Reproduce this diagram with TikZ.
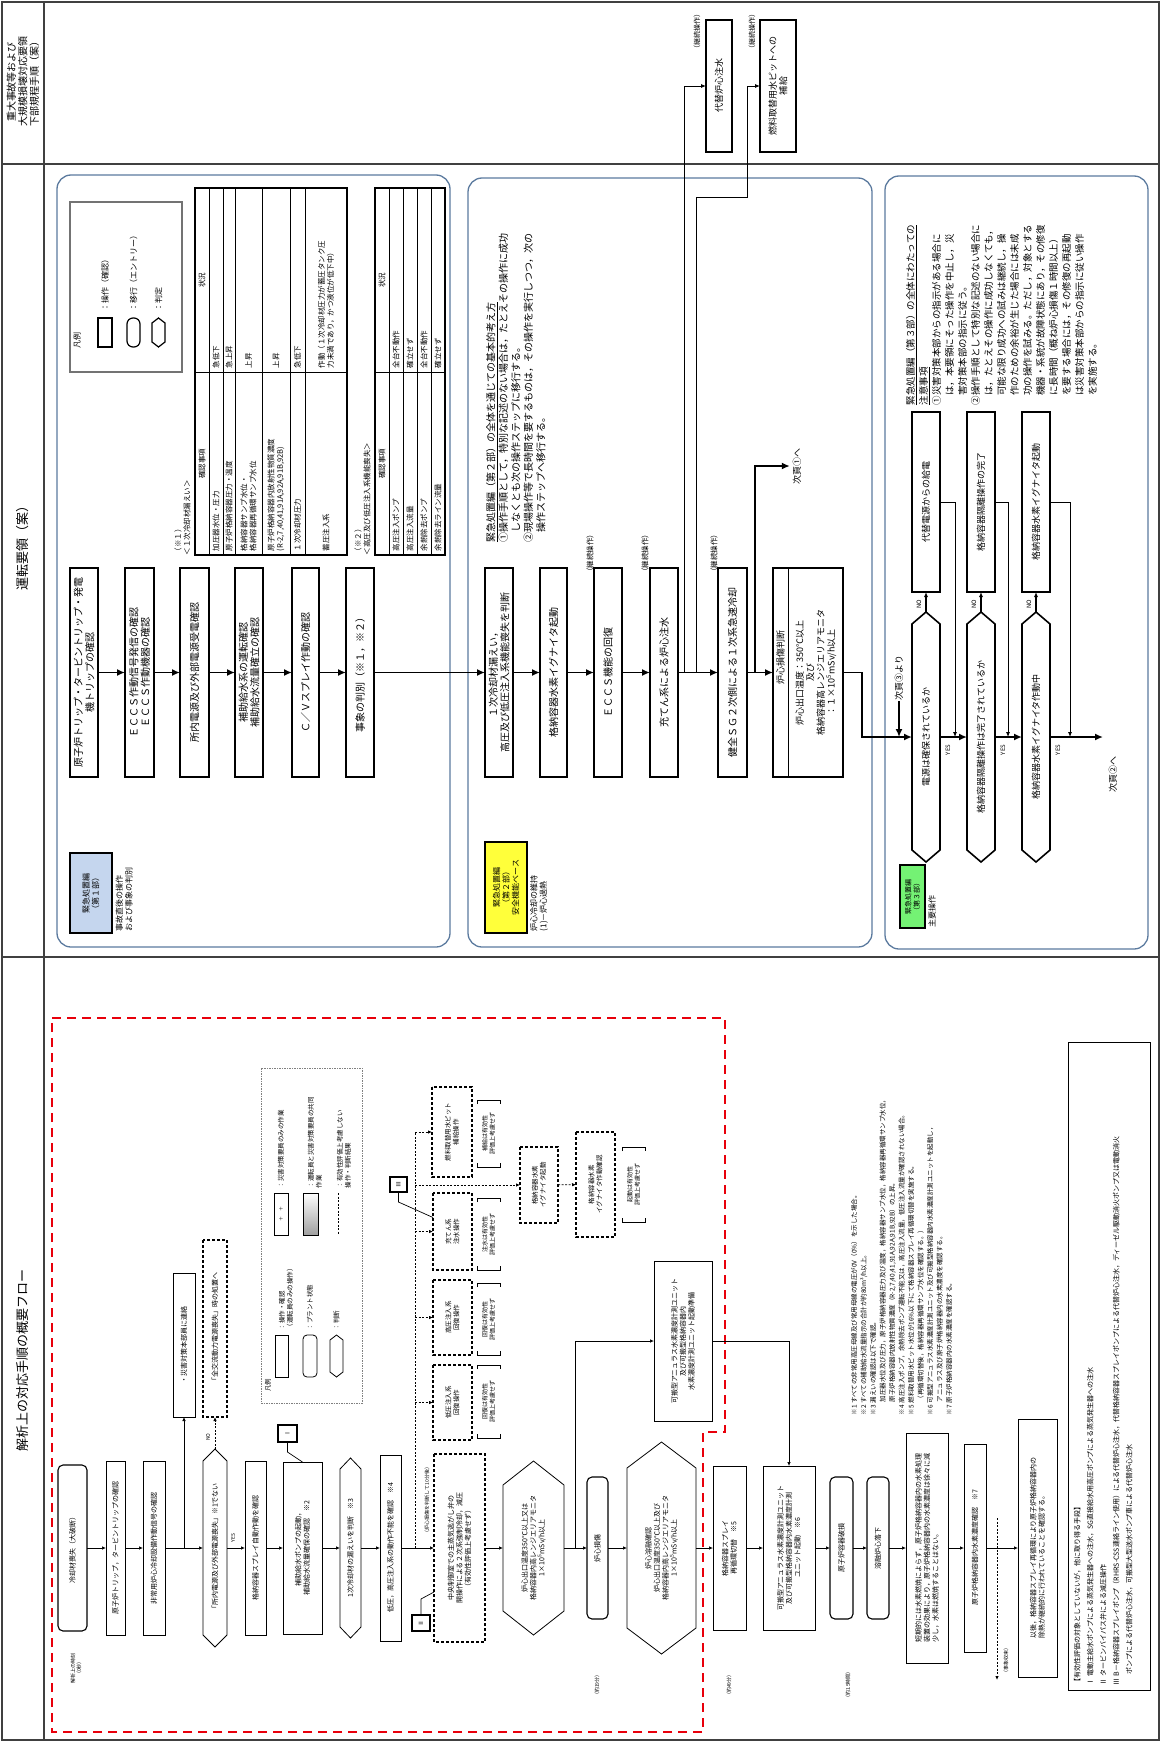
\documentclass[tikz,border=0pt]{standalone}
\usepackage{fontspec}
\setmainfont{Noto Sans CJK JP}
\usetikzlibrary{arrows.meta,calc}
\definecolor{panelc}{HTML}{5B7A9E}
\definecolor{lblue}{HTML}{C5D6EE}
\definecolor{yel}{HTML}{FFFF3A}
\definecolor{grn}{HTML}{74F274}
\definecolor{dred}{HTML}{E8000B}
\newcommand{\mkbox}[7][]{%
  \pgfmathsetmacro\bxcx{(#3+#5)/2}%
  \pgfmathsetmacro\bxcy{(#4+#6)/2}%
  \pgfmathsetmacro\bxw{(#6)-(#4)}%
  \pgfmathsetmacro\bxh{(#5)-(#3)}%
  \node[bx,minimum width=\bxw pt,minimum height=\bxh pt,#1] (#2) at (\bxcx,\bxcy) {#7};%
}
\newcommand{\mkhex}[9][]{%
  \pgfmathsetmacro\hxcx{(#3+#5)/2}%
  \mkbox[draw=none,#8]{#2}{#3}{#4}{#5}{#6}{#9}%
  \draw[#1] (#3,#4+#7) -- (\hxcx,#4) -- (#5,#4+#7) -- (#5,#6-#7) -- (\hxcx,#6) -- (#3,#6-#7) -- cycle;%
}
\newcommand{\mkbrk}[4]{%
  \draw[line width=0.8pt] (#1,#2+4) -- (#1,#2) -- (#3,#2) -- (#3,#2+4);%
  \draw[line width=0.8pt] (#1,#4-4) -- (#1,#4) -- (#3,#4) -- (#3,#4-4);%
}
\begin{document}
\begin{tikzpicture}[x=1pt,y=-1pt,
  bx/.style={rotate=90,inner sep=1pt,outer sep=0pt,align=center},
  framel/.style={draw=black!75,line width=1.5pt},
  panel/.style={draw=panelc,line width=1.3pt,rounded corners=14pt},
  tbox/.style={draw,line width=1.6pt},
  nbox/.style={draw,line width=0.8pt},
  dbox/.style={draw,line width=1.1pt,dash pattern=on 3pt off 2pt},
  rbox/.style={draw,line width=1.1pt,rounded corners=5pt},
  arrT/.style={line width=1.6pt,-{Latex[length=8pt,width=7pt]}},
  arrt/.style={line width=0.8pt,-{Latex[length=5pt,width=4pt]}},
  arrs/.style={line width=0.7pt,-{Latex[length=4pt,width=3.5pt]}},
  arrd/.style={line width=0.8pt,dash pattern=on 2pt off 1.5pt,-{Latex[length=4pt,width=3.5pt]}},
  dotl/.style={line width=0.8pt,dash pattern=on 2pt off 1.5pt},
  f13/.style={font=\fontsize{13}{15}\selectfont},
  f10/.style={font=\fontsize{10}{11.5}\selectfont},
  f9/.style={font=\fontsize{9}{10.5}\selectfont},
  f8/.style={font=\fontsize{8}{9.5}\selectfont},
  f75/.style={font=\fontsize{7.5}{9}\selectfont},
  f7/.style={font=\fontsize{7}{8.5}\selectfont},
  f65/.style={font=\fontsize{6.5}{8}\selectfont},
  f6/.style={font=\fontsize{6}{7.5}\selectfont},
  f5/.style={font=\fontsize{5}{6}\selectfont}]
\path[use as bounding box] (0,0) rectangle (1161,1742);
% ---------- frame ----------
\draw[framel] (2,2) rectangle (1159,1740);
\draw[framel] (44,2) -- (44,1740);
\draw[framel] (2,164) -- (1159,164);
\draw[framel] (2,957) -- (1159,957);
\node[bx,f10] (h1) at (23,82) {重大事故等および\\大規模損壊対応要領\\下部規程手順（案）};
\node[bx,f13] (h2) at (23,545) {運転要領（案）};
\node[bx,f13] (h3) at (23,1360) {解析上の対応手順の概要フロー};
% ---------- top section ----------
\mkbox[tbox,f9]{T1}{706}{20}{732}{152}{代替炉心注水}
\mkbox[tbox,f9]{T2}{760}{20}{796}{152}{燃料取替用水ピットへの\\補給}
\node[bx,f7] (t1l) at (697,32) {（継続操作）};
\node[bx,f7] (t2l) at (752,32) {（継続操作）};
% ---------- panel 1 ----------
\draw[panel] (57,175) rectangle (450,947);
\draw[draw=black!55,line width=1.5pt] (70,202) rectangle (182,372);
\node[bx,f8] (lg0) at (77,340) {凡例};
\mkbox[draw,line width=1.2pt]{ls1}{98}{318}{112}{347}{}
\node[bx,f8,anchor=west] (lt1) at (105,312) {：操作（確認）};
\mkbox[draw,line width=1.2pt,rounded corners=6pt]{ls2}{127}{318}{140}{347}{}
\node[bx,f8,anchor=west] (lt2) at (133.5,312) {：移行（エントリー）};
\mkhex[line width=1.2pt]{ls3}{152}{318}{165}{347}{5}{}{}
\node[bx,f8,anchor=west] (lt3) at (158.5,312) {：判定};
% table 1
\node[bx,f75,anchor=west] (tb1a) at (178,556) {（※１）};
\node[bx,f75,anchor=west] (tb1b) at (187,556) {＜１次冷却材漏えい＞};
\draw[line width=1.5pt] (195,188) rectangle (347,555);
\foreach \r in {209,223,235,262,290,305}{\draw[line width=1pt] (\r,188) -- (\r,555);}
\draw[line width=0.7pt] (195,372) -- (347,372);
\node[bx,f75] (r0a) at (202,463.5) {確認事項};
\node[bx,f75] (r0b) at (202,280) {状況};
\node[bx,f75,anchor=west] (r1a) at (216,552) {加圧器水位・圧力};
\node[bx,f75,anchor=west] (r1b) at (216,369) {急低下};
\node[bx,f75,anchor=west] (r2a) at (229,552) {原子炉格納容器圧力・温度};
\node[bx,f75,anchor=west] (r2b) at (229,369) {急上昇};
\node[bx,f75,anchor=west,align=left] (r3a) at (248.5,552) {格納容器サンプ水位・\\格納容器再循環サンプ水位};
\node[bx,f75,anchor=west] (r3b) at (248.5,369) {上昇};
\node[bx,f75,anchor=west,align=left] (r4a) at (276,552) {原子炉格納容器内放射性物質濃度\\(R-2,7,40,41,91A,92A,91B,92B)};
\node[bx,f75,anchor=west] (r4b) at (276,369) {上昇};
\node[bx,f75,anchor=west] (r5a) at (297.5,552) {１次冷却材圧力};
\node[bx,f75,anchor=west] (r5b) at (297.5,369) {急低下};
\node[bx,f75,anchor=west] (r6a) at (326,552) {蓄圧注入系};
\node[bx,f75,anchor=west,align=left] (r6b) at (326,369) {作動（１次冷却材圧力が蓄圧タンク圧\\力未満であり，かつ液位が低下中）};
% table 2
\node[bx,f75,anchor=west] (tb2a) at (358,556) {（※２）};
\node[bx,f75,anchor=west] (tb2b) at (367,556) {＜高圧及び低圧注入系機能喪失＞};
\draw[line width=1.5pt] (375,188) rectangle (445,555);
\foreach \r in {389,403,417,431}{\draw[line width=1pt] (\r,188) -- (\r,555);}
\draw[line width=0.7pt] (375,372) -- (445,372);
\node[bx,f75] (s0a) at (382,463.5) {確認事項};
\node[bx,f75] (s0b) at (382,280) {状況};
\node[bx,f75,anchor=west] (s1a) at (396,552) {高圧注入ポンプ};
\node[bx,f75,anchor=west] (s1b) at (396,369) {全台不動作};
\node[bx,f75,anchor=west] (s2a) at (410,552) {高圧注入流量};
\node[bx,f75,anchor=west] (s2b) at (410,369) {確立せず};
\node[bx,f75,anchor=west] (s3a) at (424,552) {余熱除去ポンプ};
\node[bx,f75,anchor=west] (s3b) at (424,369) {全台不動作};
\node[bx,f75,anchor=west] (s4a) at (438,552) {余熱除去ライン流量};
\node[bx,f75,anchor=west] (s4b) at (438,369) {確立せず};
% flow 1
\mkbox[tbox,f10]{P1a}{70}{568}{98}{777}{原子炉トリップ・タービントリップ・発電\\機トリップの確認}
\mkbox[tbox,f10]{P1b}{125}{568}{154}{777}{ＥＣＣＳ作動信号発信の確認\\ＥＣＣＳ作動機器の確認}
\mkbox[tbox,f10]{P1c}{180}{568}{209}{777}{所内電源及び外部電源受電確認}
\mkbox[tbox,f10]{P1d}{235}{568}{263}{777}{補助給水系の運転確認\\補助給水流量確立の確認}
\mkbox[tbox,f10]{P1e}{292}{568}{319}{777}{Ｃ／Ｖスプレイ作動の確認}
\mkbox[tbox,f10]{P1f}{346}{568}{374}{777}{事象の判別（※１，※２）}
\mkbox[draw,line width=1.5pt,fill=lblue,f8]{L1}{70}{853}{112}{933}{緊急処置編\\（第１部）}
\node[bx,f8,anchor=west,align=left] (L1t) at (124,932) {事故直後の操作\\および事象の判別};
% ---------- panel 2 ----------
\draw[panel] (468,178) rectangle (872,947);
\node[bx,anchor=north west,align=left,inner sep=0pt,font=\fontsize{10}{12.5}\selectfont] (n2) at (486,542)
 {\underline{緊急処置編（第２部）の全体を通じての基本的考え方}\\①操作手順として，特別な記述のない場合は，たとえその操作に成功\\\hspace*{1em}しなくとも次の操作ステップに移行する。\\②現場操作等で長時間を要するものは，その操作を実行しつつ，次の\\\hspace*{1em}操作ステップへ移行する。};
\mkbox[tbox,f10]{P2a}{485}{568}{513}{777}{１次冷却材漏えい，\\高圧及び低圧注入系機能喪失を判断}
\mkbox[tbox,f10]{P2b}{540}{568}{567}{777}{格納容器水素イグナイタ起動}
\mkbox[tbox,f10]{P2c}{594}{568}{622}{777}{ＥＣＣＳ機能の回復}
\mkbox[tbox,f10]{P2d}{650}{568}{678}{777}{充てん系による炉心注水}
\mkbox[tbox,f10]{P2e}{718}{568}{747}{777}{健全ＳＧ２次側による１次系急速冷却}
\mkbox[tbox]{P2f}{773}{568}{843}{777}{}
\draw[line width=1pt] (788,568) -- (788,777);
\node[bx,f9] (P2fh) at (780.5,657) {炉心損傷判断};
\node[bx,f9] (P2ft) at (816,672.5) {炉心出口温度：350℃以上\\及び\\格納容器高レンジエリアモニタ\\：１×10\textsuperscript{5}mSv/h以上};
\node[bx,f75] (k1) at (590,553) {（継続操作）};
\node[bx,f75] (k2) at (645,553) {（継続操作）};
\node[bx,f75] (k3) at (714,553) {（継続操作）};
\mkbox[draw,line width=1.5pt,fill=yel,f8]{L2}{485}{842}{527}{933}{緊急処置編\\（第２部）\\安全機能ベース}
\node[bx,f8,anchor=west,align=left] (L2t) at (539,932) {炉心冷却の維持\\(1)－炉心過熱};
\draw[arrT] (P1a) -- (P1b);
\draw[arrT] (P1b) -- (P1c);
\draw[arrT] (P1c) -- (P1d);
\draw[arrT] (P1d) -- (P1e);
\draw[arrT] (P1e) -- (P1f);
\draw[arrT] (P1f) -- (P2a);
\draw[arrT] (P2a) -- (P2b);
\draw[arrT] (P2b) -- (P2c);
\draw[arrT] (P2c) -- (P2d);
\draw[arrT] (P2d) -- (P2e);
\draw[arrT] (P2e) -- (P2f);
\coordinate (j1) at (684,672.5);
\coordinate (j2) at (696,672.5);
\coordinate (j3) at (755,672.5);
\draw[arrt] (j1) |- (T1);
\draw[arrt] (j2) |- (747,197) |- (T2);
\node[bx,f9,inner sep=3pt] (nx1) at (797,466) {次頁①へ};
\draw[arrT] (j3) |- (nx1.north);
% ---------- panel 3 ----------
\draw[panel] (885,176) rectangle (1148,949);
\node[bx,anchor=north west,align=left,inner sep=0pt,font=\fontsize{9.5}{13}\selectfont] (n3) at (906,405)
 {\underline{緊急処置編（第３部）の全体にわたっての}\\\underline{注意事項}\\①災害対策本部からの指示がある場合に\\\hspace*{1em}は，本要領にそった操作を中止し，災\\\hspace*{1em}害対策本部の指示に従う。\\②操作手順として特別な記述のない場合に\\\hspace*{1em}は，たとえその操作に成功しなくても，\\\hspace*{1em}可能な限り成功への試みは継続し，操\\\hspace*{1em}作のための余裕が生じた場合には未成\\\hspace*{1em}功の操作を試みる。ただし，対象とする\\\hspace*{1em}機器・系統が故障状態にあり，その修復\\\hspace*{1em}に長時間（概ね炉心損傷１時間以上）\\\hspace*{1em}を要する場合には，その修復の再起動\\\hspace*{1em}は災害対策本部からの指示に従い操作\\\hspace*{1em}を実施する。};
\mkhex[line width=1.6pt]{H1}{912}{612}{940}{862}{12}{f9}{電源は確保されているか}
\mkhex[line width=1.6pt]{H2}{967}{612}{995}{862}{12}{f9}{格納容器隔離操作は完了されているか}
\mkhex[line width=1.6pt]{H3}{1022}{612}{1050}{862}{12}{f9}{格納容器水素イグナイタ作動中}
\mkbox[tbox,f9]{B1}{912}{412}{940}{592}{代替電源からの給電}
\mkbox[tbox,f9]{B2}{967}{412}{995}{592}{格納容器隔離操作の完了}
\mkbox[tbox,f9]{B3}{1022}{412}{1050}{592}{格納容器水素イグナイタ起動}
\draw[arrt,line width=1.2pt] (H1) -- (B1);
\draw[arrt,line width=1.2pt] (H2) -- (B2);
\draw[arrt,line width=1.2pt] (H3) -- (B3);
\node[bx,f6] (no1) at (919,604) {NO};
\node[bx,f6] (no2) at (974,604) {NO};
\node[bx,f6] (no3) at (1029,604) {NO};
\node[bx,f6] (ye1) at (948,750) {YES};
\node[bx,f6] (ye2) at (1003,750) {YES};
\node[bx,f6] (ye3) at (1058,750) {YES};
\draw[arrT] (P2f.south) -| (862,737) -- (H1);
\draw[arrT] (H1) -- (H2);
\draw[arrT] (H2) -- (H3);
\coordinate (e3) at (1103,737);
\draw[arrT] (H3) -- (e3);
\node[bx,f9] (nx2) at (1113,774) {次頁②へ};
\draw[arrt] (B1.south) -| (955,737);
\draw[arrt] (B2.south) -| (1008,737);
\draw[arrt] (B3.south) -| (1070,737);
\node[bx,f9] (nx3) at (899,678) {次頁③より};
\draw[arrT] (nx3.west) -- (nx3.west |- H1);
\mkbox[draw,line width=1.5pt,fill=grn,f7]{L3}{900}{865}{925}{928}{緊急処置編\\（第３部）}
\node[bx,f8,anchor=west] (L3t) at (932,928) {主要操作};
% ---------- bottom section ----------
\draw[dred,line width=2.6pt,dash pattern=on 9pt off 6pt] (52,1018) -- (725,1018) -- (725,1432) -- (703,1432) -- (703,1732) -- (52,1732) -- cycle;
% legend
\draw[black!50,line width=0.7pt,dash pattern=on 1.5pt off 1pt] (261,1068) rectangle (362,1403);
\node[bx,f65] (bl0) at (268,1385) {凡例};
\mkbox[nbox]{bs1}{275}{1335}{288}{1377}{}
\node[bx,f65,anchor=west,align=left] (bt1) at (286,1331) {：操作・確認\\（運転員のみの操作）};
\mkbox[rbox,line width=0.8pt,rounded corners=4pt]{bs2}{303}{1335}{317}{1377}{}
\node[bx,f65,anchor=west] (bt2) at (310,1331) {：プラント状態};
\mkhex[line width=0.8pt]{bs3}{330}{1335}{343}{1377}{5}{}{}
\node[bx,f65,anchor=west] (bt3) at (336.5,1331) {：判断};
\mkbox[nbox,f5]{bs4}{274}{1193}{288}{1235}{＋\quad ＋}
\node[bx,f65,anchor=west] (bt4) at (281,1189) {：災害対策要員のみの作業};
\shade[top color=white,bottom color=gray!75,draw,line width=0.8pt] (303,1193) rectangle (318,1235);
\node[bx,f65,anchor=west,align=left] (bt5) at (315,1189) {：運転員と災害対策要員の共同\\作業};
\draw[dotl] (338,1193) -- (338,1235);
\node[bx,f65,anchor=west,align=left] (bt6) at (344,1189) {：有効性評価上考慮しない\\操作・判断結果};
% main flow
\mkbox[rbox,f7]{F1}{58}{1465}{87}{1631}{冷却材喪失（大破断）}
\node[bx,f5] (F1t) at (76,1668) {解析上の時刻\\（0秒）};
\mkbox[nbox,f7]{F2}{106}{1461}{125}{1635}{原子炉トリップ，タービントリップの確認}
\mkbox[nbox,f7]{F3}{143}{1461}{165}{1635}{非常用炉心冷却設備作動信号の確認}
\mkbox[nbox,f7]{F4}{173}{1273}{195}{1417}{・災害対策本部員に連絡}
\mkhex[line width=0.8pt]{F5}{203}{1449}{227}{1647}{12}{f7}{「所内電源及び外部電源喪失」※1でない}
\mkbox[dbox,f7]{D0}{203}{1240}{227}{1417}{「全交流動力電源喪失」時の処置へ}
\node[bx,f5] (F5n) at (208,1437) {NO};
\node[bx,f5] (F5y) at (233,1538) {YES};
\mkbox[nbox,f7]{F6}{245}{1461}{266}{1635}{格納容器スプレイ自動作動を確認}
\mkbox[nbox,f7]{F7}{283}{1462}{322}{1634}{補助給水ポンプの起動，\\補助給水流量確保の確認　※2}
\mkbox[draw,line width=1.2pt,f6]{C1}{278}{1425}{297}{1442}{Ⅰ}
\mkhex[line width=0.8pt]{F8}{340}{1458}{361}{1638}{11}{f7}{1次冷却材の漏えいを判断　※3}
\mkbox[nbox,f7]{F9}{380}{1455}{401}{1641}{低圧，高圧注入系の動作不能を確認　※4}
\mkbox[dbox,f7]{DB0}{434}{1454}{485}{1642}{中央制御室での主蒸気逃がし弁の\\開操作による２次系強制冷却，減圧\\（有効性評価上考慮せず）}
\node[bx,f5] (DB0t) at (427,1500) {（炉心損傷を判断して10分後）};
\mkbox[draw,line width=1.2pt,f6]{C2}{412}{1615}{430}{1631}{Ⅱ}
\mkbox[dbox,f65]{DB1}{432}{1087}{472}{1177}{燃料取替用水ピット\\補給操作}
\mkbox[dbox,f65]{DB2}{433}{1193}{472}{1270}{充てん系\\注水操作}
\mkbox[dbox,f65]{DB3}{433}{1280}{472}{1355}{高圧注入系\\回復操作}
\mkbox[dbox,f65]{DB4}{433}{1365}{472}{1440}{低圧注入系\\回復操作}
\mkbox[dbox,f65]{DB5}{520}{1147}{558}{1223}{格納容器水素\\イグナイタ起動}
\mkbox[dbox,f65]{DB6}{576}{1132}{615}{1237}{格納容器水素\\イグナイタ作動確認}
\mkbox[draw,line width=1.2pt,f6]{C3}{390}{1177}{407}{1192}{Ⅲ}
\mkbrk{477}{1100}{500}{1167}
\node[bx,f6] (BR1) at (488.5,1133.5) {補給は有効性\\評価上考慮せず};
\mkbrk{477}{1198}{500}{1270}
\node[bx,f6] (BR2) at (488.5,1234) {注水は有効性\\評価上考慮せず};
\mkbrk{477}{1283}{500}{1355}
\node[bx,f6] (BR3) at (488.5,1319) {回復は有効性\\評価上考慮せず};
\mkbrk{477}{1365}{500}{1438}
\node[bx,f6] (BR4) at (488.5,1401.5) {回復は有効性\\評価上考慮せず};
\mkbrk{622}{1147}{645}{1222}
\node[bx,f6] (BR5) at (633.5,1184.5) {起動は有効性\\評価上考慮せず};
\mkhex[line width=0.8pt]{F11}{503}{1461}{564}{1635}{24}{f7}{炉心出口温度350℃以上又は\\格納容器内高レンジエリアモニタ\\1×10\textsuperscript{5}mSv/h以上}
\mkbox[rbox,f7]{F12}{587}{1477}{608}{1619}{炉心損傷}
\node[bx,f5] (F12t) at (597,1685) {（約19分）};
\mkhex[line width=0.8pt]{F13}{627}{1442}{696}{1654}{26}{f7}{炉心溶融確認\\炉心出口温度350℃以上及び\\格納容器内高レンジエリアモニタ\\1×10\textsuperscript{5}mSv/h以上}
\mkbox[nbox,f7]{F13b}{654}{1261}{712}{1421}{可搬型アニュラス水素濃度計測ユニット\\及び可搬型格納容器内\\水素濃度計測ユニット起動準備}
\mkbox[nbox,f7]{F14}{713}{1466}{746}{1630}{格納容器スプレイ\\再循環切替　※5}
\node[bx,f5] (F14t) at (729,1685) {（約49分）};
\mkbox[nbox,f7]{F15}{763}{1466}{815}{1630}{可搬型アニュラス水素濃度計測ユニット\\及び可搬型格納容器内水素濃度計測\\ユニット起動　※6}
\mkbox[rbox,f7]{F16}{830}{1477}{853}{1619}{原子炉容器破損}
\node[bx,f5] (F16t) at (848,1685) {（約1.5時間）};
\mkbox[rbox,f7]{F17}{867}{1477}{889}{1619}{溶融炉心落下}
\mkbox[nbox,f7,align=left]{F18}{906}{1433}{948}{1663}{短期的には水素燃焼によらず，原子炉格納容器内の水素処理\\装置の効果により，原子炉格納容器内の水素濃度は徐々に減\\少し，水素は燃焼することはない。}
\mkbox[nbox,f7]{F19}{964}{1444}{986}{1652}{原子炉格納容器内水素濃度確認　※7}
\mkbox[nbox,f7,align=left]{F20}{1018}{1419}{1057}{1677}{以後，格納容器スプレイ再循環により原子炉格納容器内の\\除熱が継続的に行われていることを確認する。}
\coordinate (ds1) at (997,1518);
\coordinate (ds2) at (997,1680);
\draw[arrd] (ds1) -- (ds2);
\node[bx,f5] (dsl) at (1006,1660) {（事象収束）};
% flow connectors
\foreach \a/\b in {F1/F2,F2/F3,F3/F5,F5/F6,F6/F7,F7/F8,F8/F9,F9/DB0,DB0/F11,F11/F12,F12/F13,F13/F14,F14/F15,F15/F16,F16/F17,F17/F18,F18/F19,F19/F20}
  {\draw[arrs] (\a) -- (\b);}
\draw[arrs] (F4 |- F3) -- (F4);
\draw[arrd] (F5) -- (D0);
\draw[line width=0.7pt] (C1.west) -- ++(0,10) -- (F7.east);
\draw[line width=0.7pt] (C2.east) -- ++(0,-16) -- ($(DB0.north)+(0,44)$);
\draw[line width=0.7pt] (C3.west) -- ++(0,10) -- ($(DB2.north)+(0,-14)$);
\coordinate (jt) at (415,1132);
\draw[dotl] (jt |- F9) -- (jt);
\draw[arrd] (jt) -- (DB1);
\draw[arrd] (jt |- DB2) -- (DB2);
\draw[arrd] (jt |- DB3) -- (DB3);
\draw[arrd] (jt |- DB4) -- (DB4);
\draw[arrd] (jt |- DB5) -- (DB5);
\draw[arrd] (DB5) -- (DB6);
\coordinate (jh) at (575,1548);
\draw[arrs] (jh) |- (F13b);
\draw[arrs] (F13b) -| (F15);
% notes
\node[bx,anchor=north west,align=left,inner sep=0pt,font=\fontsize{6.5}{9.5}\selectfont] (nts) at (851,1415)
 {※1\ すべての非常用高圧母線及び常用母線の電圧が0V（0\%）を示した場合。\\
  ※2\ すべての補助給水流量指示の合計が約80m³/h以上。\\
  ※3\ 漏えいの確認は以下で確認。\\
  \hspace*{2em}加圧器水位及び圧力，原子炉格納容器圧力及び温度，格納容器サンプ水位，格納容器再循環サンプ水位，\\
  \hspace*{2em}原子炉格納容器内放射性物質濃度（R-2,7,40,41,91A,92A,91B,92B）の上昇。\\
  ※4\ 高圧注入ポンプ，余熱除去ポンプ運転不能又は，高圧注入流量，低圧注入流量が確認されない場合。\\
  ※5\ 燃料取替用水ピット水位が16\%以下にて格納容器スプレイ再循環切替を実施する。\\
  \hspace*{2em}（再循環切替後，格納容器再循環サンプ水位を確認する。）\\
  ※6\ 可搬型アニュラス水素濃度計測ユニット及び可搬型格納容器内水素濃度計測ユニットを起動し，\\
  \hspace*{2em}アニュラス及び原子炉格納容器内の水素濃度を確認する。\\
  ※7\ 原子炉格納容器内の水素濃度を確認する。};
\draw[line width=1pt] (1068,1042) rectangle (1150,1690);
\node[bx,anchor=north west,align=left,inner sep=0pt,font=\fontsize{7}{13}\selectfont] (lgd) at (1074,1685)
 {【有効性評価の対象としていないが，他に取り得る手段】\\
  Ⅰ\ 電動主給水ポンプによる蒸気発生器への注水，SG直接給水用高圧ポンプによる蒸気発生器への注水\\
  Ⅱ\ タービンバイパス弁による減圧操作\\
  Ⅲ\ B－格納容器スプレイポンプ（RHRS-CSS連絡ライン使用）による代替炉心注水，代替格納容器スプレイポンプによる代替炉心注水，ディーゼル駆動消火ポンプ又は電動消火\\
  \hspace*{1.5em}ポンプによる代替炉心注水，可搬型大型送水ポンプ車による代替炉心注水};
\end{tikzpicture}
\end{document}
